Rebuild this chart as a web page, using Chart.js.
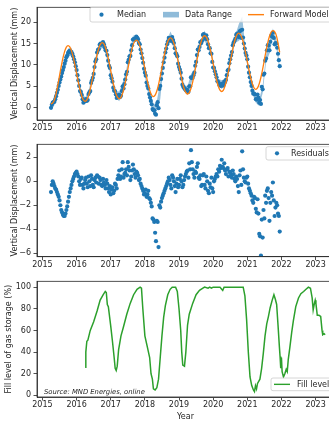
<!DOCTYPE html>
<html><head><meta charset="utf-8">
<script src="https://cdn.jsdelivr.net/npm/chart.js@4.4.0/dist/chart.umd.min.js"></script>
<style>
html,body{margin:0;padding:0;width:329px;height:422px;overflow:hidden;background:#fff}
canvas{position:absolute;left:0}
</style></head><body>
<canvas id="c1" width="345" height="137" style="top:0px"></canvas>
<canvas id="c2" width="345" height="137" style="top:137px"></canvas>
<canvas id="c3" width="345" height="148" style="top:274px"></canvas>
<script>
// ---------- DATA ----------
const xTickYears = [2015, 2016, 2017, 2018, 2019, 2020, 2021, 2022, 2023];

const obsDates = [
2015.25,2015.30,2015.35,2015.40,2015.45,2015.50,2015.55,2015.60,2015.65,2015.70,2015.75,2015.80,2015.85,2015.90,2015.95,
2016.00,2016.05,2016.10,2016.15,2016.20,2016.25,2016.30,2016.35,2016.40,2016.45,2016.50,2016.55,2016.60,2016.65,2016.70,2016.75,2016.80,2016.85,2016.90,2016.95,
2017.00,2017.05,2017.10,2017.15,2017.20,2017.25,2017.30,2017.35,2017.40,2017.45,2017.50,2017.55,2017.60,2017.65,2017.70,2017.75,2017.80,2017.85,2017.90,2017.95,
2018.00,2018.05,2018.10,2018.15,2018.20,2018.25,2018.30,2018.35,2018.40,2018.45,2018.50,2018.55,2018.60,2018.65,2018.70,2018.75,2018.80,2018.85,2018.90,2018.95,
2019.00,2019.05,2019.10,2019.15,2019.20,2019.25,2019.30,2019.35,2019.40,2019.45,2019.50,2019.55,2019.60,2019.65,2019.70,2019.75,2019.80,2019.85,2019.90,2019.95,
2020.00,2020.05,2020.10,2020.15,2020.20,2020.25,2020.30,2020.35,2020.40,2020.45,2020.50,2020.55,2020.60,2020.65,2020.70,2020.75,2020.80,2020.85,2020.90,2020.95,
2021.00,2021.05,2021.10,2021.15,2021.20,2021.25,2021.30,2021.35,2021.40,2021.45,2021.50,2021.55,2021.60,2021.65,2021.70,2021.75,2021.80,2021.85,2021.90,2021.95];

const medianValues = [
0.0,1.2,1.4,2.7,4.2,5.9,7.3,8.8,10.3,11.8,12.8,13.3,13.0,12.0,10.6,
8.8,6.4,3.9,3.0,1.2,1.6,1.6,3.2,3.9,6.4,7.9,10.8,12.9,13.7,15.0,14.8,14.8,13.4,12.3,9.8,
7.6,6.1,4.0,3.1,2.6,3.0,2.8,5.0,5.5,7.8,10.6,12.0,13.4,15.9,16.1,16.6,16.0,14.8,12.7,10.5,
8.2,5.9,4.5,2.4,0.8,-0.6,-1.4,0.6,-0.1,5.1,8.0,10.6,12.9,14.8,16.3,16.0,16.5,15.1,12.7,12.0,
9.5,8.2,5.4,4.6,4.1,4.1,5.0,7.1,7.0,8.2,10.7,13.6,14.2,15.1,17.0,16.5,16.9,14.8,13.9,12.6,
9.4,8.5,7.1,6.0,5.4,5.6,5.2,6.0,7.6,8.9,11.3,13.0,15.2,16.1,17.3,16.5,18.0,18.2,15.0,12.8,
11.3,8.2,6.0,4.0,3.3,2.0,3.1,1.2,0.9,4.3,8.0,11.5,14.6,13.4,16.8,17.5,14.8,15.0,12.6,9.7];

const residualValues = [
-0.9,0.0,-0.4,-0.7,-1.1,-1.6,-2.4,-2.8,-2.9,-2.4,-1.7,-0.9,-0.3,0.2,0.6,
0.8,0.4,-0.3,0.3,-0.6,0.1,-0.2,0.4,-0.4,0.2,-0.5,0.3,0.5,-0.2,0.1,-0.4,-0.1,-0.6,-0.2,-0.9,
-1.1,-0.5,-0.8,-0.3,0.2,0.9,0.4,1.6,0.6,1.0,1.6,0.9,0.4,1.4,0.6,0.8,0.5,0.2,-0.4,-0.8,
-1.0,-1.3,-0.8,-1.5,-2.1,-3.2,-4.3,-3.3,-5.5,-2.2,-1.4,-1.0,-0.6,-0.2,0.3,-0.3,0.5,0.0,-0.9,0.2,
-0.3,0.5,-0.5,0.1,0.6,0.9,1.5,2.6,1.0,0.3,0.7,1.5,0.2,-0.4,0.5,-0.3,0.4,-0.8,-0.2,0.3,
-0.9,0.2,0.6,1.0,1.3,1.8,1.1,0.9,1.0,0.4,0.7,0.3,0.6,0.0,0.2,-0.9,0.9,2.5,0.3,-0.1,
0.4,-0.6,-1.0,-1.6,-1.3,-2.3,-1.5,-4.4,-6.2,-4.7,-3.1,-1.8,-0.6,-3.3,-0.9,-0.1,-2.9,-1.8,-2.7,-4.2];

// in-between acquisitions
const obsDatesB = [
2015.275,2015.325,2015.375,2015.425,2015.475,2015.525,2015.575,2015.625,2015.675,2015.725,2015.775,2015.825,2015.875,2015.925,2015.975,
2016.025,2016.075,2016.125,2016.175,2016.225,2016.275,2016.325,2016.375,2016.425,2016.475,2016.525,2016.575,2016.625,2016.675,2016.725,2016.775,2016.825,2016.875,2016.925,2016.975,
2017.025,2017.075,2017.125,2017.175,2017.225,2017.275,2017.325,2017.375,2017.425,2017.475,2017.525,2017.575,2017.625,2017.675,2017.725,2017.775,2017.825,2017.875,2017.925,2017.975,
2018.025,2018.075,2018.125,2018.175,2018.225,2018.275,2018.325,2018.375,2018.425,2018.475,2018.525,2018.575,2018.625,2018.675,2018.725,2018.775,2018.825,2018.875,2018.925,2018.975,
2019.025,2019.075,2019.125,2019.175,2019.225,2019.275,2019.325,2019.375,2019.425,2019.475,2019.525,2019.575,2019.625,2019.675,2019.725,2019.775,2019.825,2019.875,2019.925,2019.975,
2020.025,2020.075,2020.125,2020.175,2020.225,2020.275,2020.325,2020.375,2020.425,2020.475,2020.525,2020.575,2020.625,2020.675,2020.725,2020.775,2020.825,2020.875,2020.925,2020.975,
2021.025,2021.075,2021.125,2021.175,2021.225,2021.275,2021.325,2021.375,2021.425,2021.475,2021.525,2021.575,2021.625,2021.675,2021.725,2021.775,2021.825,2021.875,2021.925];

const medianValuesB = [
0.7,1.3,2.0,3.5,5.1,6.6,8.1,9.5,11.0,12.2,13.1,13.1,12.6,11.3,9.7,
7.6,5.1,3.7,2.0,1.5,2.0,1.8,3.6,5.8,7.0,9.5,11.3,13.5,14.7,14.7,15.3,14.1,13.3,11.0,9.3,
6.9,4.7,3.9,2.3,2.8,2.5,3.9,4.5,6.6,8.4,11.2,12.1,14.6,16.0,15.9,16.3,15.1,13.6,11.6,9.1,
7.5,5.1,3.2,1.6,-0.3,-0.6,-1.6,1.3,4.4,6.7,9.3,11.7,13.8,15.5,16.2,15.6,15.8,13.9,12.5,10.3,
8.9,6.8,4.9,4.4,4.2,3.7,5.0,6.9,7.6,9.8,12.3,13.4,15.3,15.7,17.2,16.1,16.0,13.9,12.7,10.7,
9.3,7.8,6.2,5.4,5.1,5.2,6.1,6.5,8.7,10.4,12.2,14.6,15.6,17.0,16.8,17.8,16.3,16.4,13.8,12.2,
9.6,7.1,5.1,3.3,3.1,1.9,2.4,1.8,4.9,7.7,11.0,13.4,14.5,15.4,16.6,16.3,15.1,14.0,11.1];

const residualValuesB = [
-0.3,-0.2,-0.6,-0.9,-1.3,-2.0,-2.6,-2.9,-2.7,-2.1,-1.3,-0.6,0.0,0.4,0.7,
0.6,0.0,0.2,-0.3,-0.2,0.3,-0.5,0.0,0.5,-0.3,0.1,-0.1,0.4,0.3,-0.3,0.2,-0.3,0.1,-0.6,-0.4,
-0.7,-1.0,-0.2,-0.6,0.5,0.2,1.0,0.3,0.7,0.5,1.2,0.1,0.9,1.0,0.3,0.7,0.1,-0.2,-0.6,-1.1,
-0.7,-1.1,-1.4,-1.8,-3.1,-3.4,-5.0,-3.4,-2.0,-1.7,-1.2,-0.8,-0.4,0.0,0.1,-0.6,0.3,-0.4,-0.2,-0.5,
0.2,0.0,-0.3,0.4,0.8,0.3,1.0,1.6,0.6,0.8,1.2,0.3,0.5,-0.3,0.6,-0.6,0.0,-1.0,-0.5,-0.6,
0.0,0.4,0.4,0.8,1.1,1.2,1.5,0.6,1.1,0.8,0.5,0.9,0.2,0.4,-0.4,0.5,-0.3,1.0,0.0,0.3,
-0.2,-0.8,-1.2,-1.8,-1.4,-2.6,-2.7,-4.6,-3.2,-2.4,-1.2,-0.8,-1.4,-1.8,-1.2,-1.6,-2.2,-2.0,-2.9];

const modelValues = [
0.9,1.15,1.84,3.38,5.33,7.5,9.67,11.62,13.17,14.16,14.5,14.19,13.27,11.82,10.02,
8.0,5.99,4.18,2.74,1.82,1.5,1.84,2.81,4.32,6.23,8.35,10.47,12.38,13.9,14.87,15.2,14.89,13.96,12.5,10.68,
8.65,6.62,4.8,3.35,2.42,2.1,2.44,3.41,4.92,6.83,8.95,11.07,12.98,14.5,15.47,15.8,15.48,14.55,13.08,11.25,
9.2,7.15,5.32,3.86,2.92,2.6,2.94,3.91,5.42,7.33,9.45,11.57,13.48,15.0,15.97,16.3,15.99,15.06,13.6,11.78,
9.75,7.72,5.9,4.45,3.52,3.2,3.53,4.5,6.0,7.89,10.0,12.11,14.0,15.5,16.47,16.8,16.49,15.57,14.12,12.32,
10.3,8.29,6.48,5.04,4.12,3.8,4.13,5.1,6.6,8.49,10.6,12.71,14.6,16.1,17.07,17.4,17.09,16.16,14.7,12.88,
10.85,8.82,7.0,5.55,4.62,4.3,4.64,5.61,7.12,9.03,11.15,13.27,15.18,16.7,17.67,18.0,17.75,16.9,15.1,12.9];

const rangeDates = [
2015.25,2015.35,2015.45,2015.55,2015.65,2015.75,2015.85,2015.95,
2016.05,2016.15,2016.25,2016.35,2016.45,2016.55,2016.65,2016.75,2016.85,2016.95,
2017.05,2017.15,2017.25,2017.35,2017.45,2017.55,2017.65,2017.75,2017.85,2017.95,
2018.05,2018.15,2018.25,2018.35,2018.45,2018.55,2018.65,2018.75,2018.85,2018.95,
2019.05,2019.15,2019.25,2019.35,2019.45,2019.55,2019.65,2019.75,2019.85,2019.95,
2020.05,2020.15,2020.25,2020.35,2020.45,2020.55,2020.65,2020.75,2020.85,2020.95,
2021.05,2021.15,2021.25,2021.35,2021.45,2021.55,2021.65,2021.75,2021.85,2021.95];

const rangeLow = [
-0.6,0.6,3.4,6.5,9.4,11.9,12.2,9.8,
5.6,2.2,0.8,2.4,5.6,10.0,12.9,14.0,12.6,9.0,
5.3,2.2,1.5,4.2,7.0,11.2,15.0,15.6,14.0,9.7,
5.0,1.5,-1.4,-0.8,2.0,9.8,14.0,15.2,14.2,11.2,
7.4,3.8,3.0,5.5,7.4,12.6,14.3,15.6,14.0,11.8,
7.7,5.2,4.4,5.2,8.1,12.2,15.2,15.6,16.5,12.0,
7.4,3.2,1.2,0.4,3.4,10.6,12.6,16.5,14.0,8.5];

const rangeHigh = [
1.0,2.4,5.0,8.3,11.3,13.8,14.0,11.5,
7.3,3.8,2.4,4.0,7.3,11.7,14.6,15.8,14.2,10.6,
6.9,3.9,3.8,5.9,8.7,12.9,16.8,17.0,15.6,11.3,
6.7,3.2,0.6,1.6,6.0,11.5,15.8,17.8,16.0,12.8,
9.0,5.4,5.0,7.9,9.0,14.4,16.0,18.0,15.7,13.4,
9.3,6.8,6.4,6.8,9.7,13.8,17.0,19.5,21.3,13.6,
9.0,4.8,3.0,2.0,5.2,12.4,15.5,18.5,16.0,10.1];

const fillDates = [
2016.25,2016.27,2016.30,2016.33,2016.40,2016.50,2016.60,2016.69,2016.78,2016.84,2016.87,2016.90,2016.93,
2017.00,2017.05,2017.10,2017.13,2017.16,2017.19,2017.23,2017.30,2017.37,2017.47,2017.57,2017.67,2017.77,2017.86,2017.90,2017.94,
2018.00,2018.07,2018.14,2018.18,2018.22,2018.25,2018.30,2018.35,2018.40,2018.45,2018.50,2018.55,2018.60,2018.67,2018.74,2018.80,2018.90,2018.95,
2019.00,2019.05,2019.08,2019.11,2019.16,2019.20,2019.25,2019.30,2019.40,2019.50,2019.60,2019.70,2019.75,2019.85,2019.90,2019.95,
2020.00,2020.10,2020.20,2020.25,2020.28,2020.32,2020.50,2020.70,2020.88,2020.93,2020.98,
2021.03,2021.08,2021.13,2021.18,2021.21,2021.24,2021.27,2021.30,2021.37,2021.42,2021.47,2021.52,2021.57,2021.62,2021.67,2021.73,2021.78,2021.82,2021.86,2021.90,2021.94,2021.96,2021.98,
2022.00,2022.02,2022.06,2022.10,2022.14,2022.17,2022.20,2022.25,2022.30,2022.35,2022.42,2022.50,2022.57,2022.65,2022.72,2022.79,2022.85,2022.90,2022.93,2022.96,2022.99,
2023.01,2023.05,2023.10,2023.15,2023.19,2023.21,2023.25,2023.28];

const fillLevel = [
26,40,50,51,60,68,78,88,93,96,95,84,82,
64,50,35,25,23,27,42,55,63,75,85,93,98,100,99,80,
55,45,35,20,15,6,5,7,15,35,55,72,83,93,98,100,100,96,
80,60,40,28,27,40,65,75,85,93,97,99,100,99,100,99,
100,100,100,98,97,100,100,100,100,92,70,
40,17,9,5,3.5,9,6,11,15,25,39,55,66,73,81,88,93,89,84,65,45,36,25,
35,22,17,20,24,22,33,45,58,69,82,90,94,96,98,100,99,90,79,84,88,
85,74,74,73,60,56,57,56];

// ---------- STYLE ----------
const X_MIN = 2014.84, X_MAX = 2023.54;
const FS = 8;
const FONT = {family: '"DejaVu Sans", sans-serif', size: FS};
const INK = '#262626';
const BLUE = '#1f77b4', ORANGE = '#ff7f0e', GREEN = '#2ca02c';

const pts = (xs, ys) => xs.map((x, i) => ({x: x, y: ys[i]}));
const fmt = v => (v < 0 ? '\u2212' + Math.abs(v) : String(v));

function xScale(withTitle, h) {
  return {
    type: 'linear', min: X_MIN, max: X_MAX,
    afterFit: s => { s.height = h; },
    afterBuildTicks: s => { s.ticks = xTickYears.map(v => ({value: v})); },
    ticks: {autoSkip: false, maxRotation: 0, minRotation: 0, color: INK, font: FONT, padding: 0, callback: v => String(v)},
    grid: {drawOnChartArea: false, drawTicks: true, tickLength: 3.5, tickColor: INK, tickWidth: 0.8},
    border: {display: true, color: INK, width: 0.8},
    title: {display: withTitle, text: 'Year', color: INK, font: FONT, padding: {top: 0, bottom: 0.5}}
  };
}
function yScale(min, max, step, title, tpad) {
  return {
    type: 'linear', min: min, max: max,
    afterFit: s => { s.width = 37; },
    ticks: {stepSize: step, includeBounds: false, color: INK, font: FONT, padding: 2.5, callback: fmt},
    grid: {drawOnChartArea: false, drawTicks: true, tickLength: 3.5, tickColor: INK, tickWidth: 0.8},
    border: {display: true, color: INK, width: 0.8},
    title: {display: true, text: title, color: INK, font: FONT, padding: {top: tpad, bottom: 0}}
  };
}

const framePlugin = {
  id: 'frame',
  afterDatasetsDraw(chart) {
    const a = chart.chartArea, ctx = chart.ctx;
    ctx.save(); ctx.strokeStyle = INK; ctx.lineWidth = 0.8;
    ctx.strokeRect(a.left, a.top, a.right - a.left, a.bottom - a.top);
    ctx.restore();
  }
};

function legendPlugin(id, box, items) {
  return {
    id: id,
    afterDraw(chart) {
      const ctx = chart.ctx;
      ctx.save();
      ctx.beginPath();
      ctx.roundRect(box.x, box.y, box.w, box.h, 2);
      ctx.fillStyle = 'rgba(255,255,255,0.8)'; ctx.fill();
      ctx.strokeStyle = '#cccccc'; ctx.lineWidth = 0.8; ctx.stroke();
      ctx.font = FS + 'px "DejaVu Sans", sans-serif';
      ctx.textBaseline = 'middle'; ctx.textAlign = 'left';
      items.forEach(it => {
        const cy = box.y + box.h / 2;
        if (it.kind === 'dot') {
          ctx.fillStyle = it.color; ctx.beginPath(); ctx.arc(it.hx + 7.5, cy, 2.1, 0, Math.PI * 2); ctx.fill();
        } else if (it.kind === 'patch') {
          ctx.fillStyle = it.color; ctx.fillRect(it.hx, cy - 2.8, 16, 5.6);
        } else {
          ctx.strokeStyle = it.color; ctx.lineWidth = 1.4; ctx.beginPath();
          ctx.moveTo(it.hx, cy); ctx.lineTo(it.hx + 16, cy); ctx.stroke();
        }
        ctx.fillStyle = INK; ctx.fillText(it.text, it.tx, cy + 0.3);
      });
      ctx.restore();
    }
  };
}

const sourcePlugin = {
  id: 'source',
  afterDraw(chart) {
    const ctx = chart.ctx;
    ctx.save();
    ctx.font = 'italic 6.8px "DejaVu Sans", sans-serif';
    ctx.fillStyle = INK; ctx.textBaseline = 'middle'; ctx.textAlign = 'left';
    ctx.fillText('Source: MND Energies, online', 44, 118.5);
    ctx.restore();
  }
};

const base = (pad) => ({
  responsive: false, animation: false, devicePixelRatio: 1, events: [],
  layout: {padding: pad},
  plugins: {legend: {display: false}, tooltip: {enabled: false}}
});

const dotStyle = {showLine: false, pointRadius: 2.1, pointBorderWidth: 0, pointBackgroundColor: BLUE, borderColor: BLUE};

// ---------- CHART 1 ----------
new Chart(document.getElementById('c1'), {
  type: 'line',
  data: {datasets: [
    Object.assign({label: 'Median', data: pts(obsDates, medianValues), order: 1}, dotStyle),
    {label: 'Data Range', data: pts(rangeDates, rangeHigh), borderWidth: 0, pointRadius: 0, fill: '+1', backgroundColor: 'rgba(31,119,180,0.45)', order: 3},
    {label: 'Data Range low', data: pts(rangeDates, rangeLow), borderWidth: 0, pointRadius: 0, fill: false, order: 4},
    {label: 'Forward Model', data: pts(obsDates, modelValues), borderColor: ORANGE, borderWidth: 1.3, pointRadius: 0, tension: 0.3, fill: false, order: 0},
    Object.assign({label: 'Median B', data: pts(obsDatesB, medianValuesB), order: 2}, dotStyle)
  ]},
  options: Object.assign(base({left: 0, right: 11, top: 3, bottom: 3}), {
    scales: {x: xScale(false, 14), y: yScale(-2.85, 23.44, 5, 'Vertical Displacement (mm)', 10.2)}
  }),
  plugins: [framePlugin, legendPlugin('lg1', {x: 90, y: 7.3, w: 241, h: 14.7}, [
    {kind: 'dot', color: BLUE, hx: 94, tx: 117, text: 'Median'},
    {kind: 'patch', color: 'rgba(31,119,180,0.5)', hx: 163, tx: 185, text: 'Data Range'},
    {kind: 'line', color: ORANGE, hx: 248, tx: 270, text: 'Forward Model'}
  ])]
});

// ---------- CHART 2 ----------
new Chart(document.getElementById('c2'), {
  type: 'line',
  data: {datasets: [
    Object.assign({label: 'Residuals', data: pts(obsDates, residualValues)}, dotStyle),
    Object.assign({label: 'Residuals B', data: pts(obsDatesB, residualValuesB)}, dotStyle)
  ]},
  options: Object.assign(base({left: 0, right: 11, top: 4.7, bottom: 3.3}), {
    scales: {x: xScale(false, 14), y: yScale(-6.3, 3.09, 2, 'Vertical Displacement (mm)', 10.2)}
  }),
  plugins: [framePlugin, legendPlugin('lg2', {x: 266, y: 9.7, w: 65, h: 13.3}, [
    {kind: 'dot', color: BLUE, hx: 269.5, tx: 291, text: 'Residuals'}
  ])]
});

// ---------- CHART 3 ----------
new Chart(document.getElementById('c3'), {
  type: 'line',
  data: {datasets: [
    {label: 'Fill level', data: pts(fillDates, fillLevel), borderColor: GREEN, borderWidth: 1.5, pointRadius: 0, tension: 0, fill: false}
  ]},
  options: Object.assign(base({left: 0, right: 11, top: 6, bottom: 0}), {
    scales: {x: xScale(true, 25), y: yScale(-1.5, 105.4, 20, 'Fill level of gas storage (%)', 3.9)}
  }),
  plugins: [framePlugin, sourcePlugin, legendPlugin('lg3', {x: 271, y: 104, w: 60, h: 12.7}, [
    {kind: 'line', color: GREEN, hx: 274, tx: 297, text: 'Fill level'}
  ])]
});
</script>
</body></html>
